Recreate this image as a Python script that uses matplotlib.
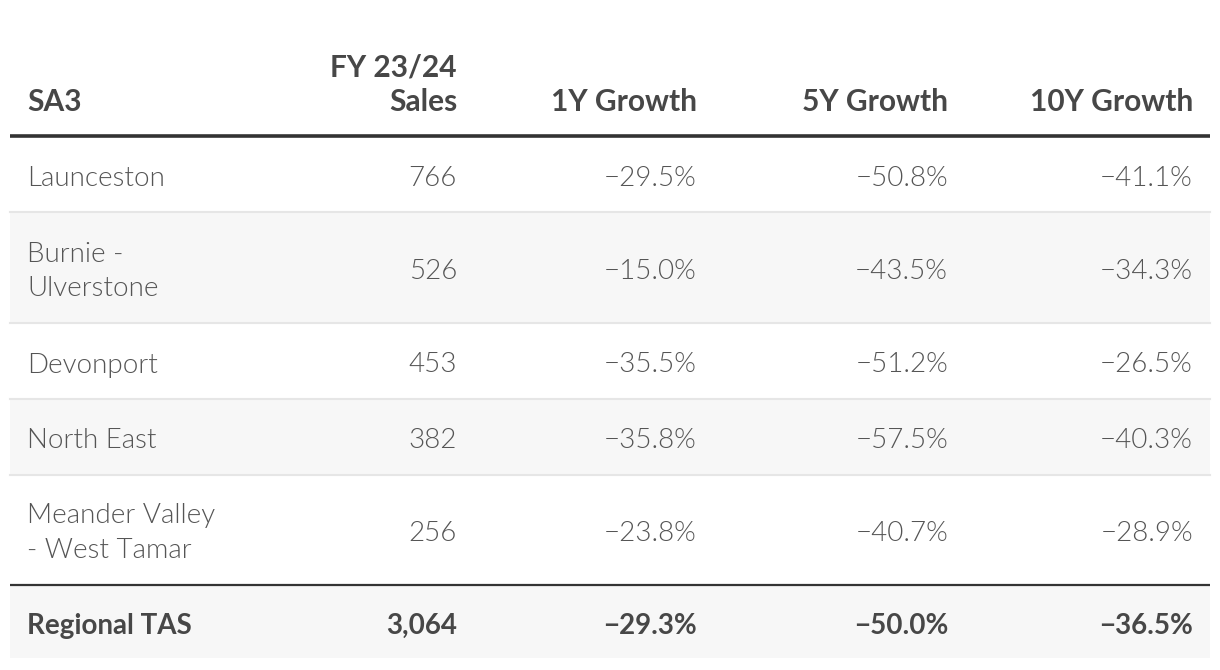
import matplotlib
matplotlib.use("Agg")
import matplotlib.pyplot as plt
from matplotlib.patches import Rectangle

plt.rcParams['font.family'] = ['Lato', 'DejaVu Sans']

headers = ["SA3", "FY 23/24\nSales", "1Y Growth", "5Y Growth", "10Y Growth"]
regions = ["Launceston", "Burnie -\nUlverstone", "Devonport", "North East", "Meander Valley\n- West Tamar"]
sales = ["766", "526", "453", "382", "256"]
growth_1y = ["\u221229.5%", "\u221215.0%", "\u221235.5%", "\u221235.8%", "\u221223.8%"]
growth_5y = ["\u221250.8%", "\u221243.5%", "\u221251.2%", "\u221257.5%", "\u221240.7%"]
growth_10y = ["\u221241.1%", "\u221234.3%", "\u221226.5%", "\u221240.3%", "\u221228.9%"]
total_row = ["Regional TAS", "3,064", "\u221229.3%", "\u221250.0%", "\u221236.5%"]

W, H = 1220, 670
fig = plt.figure(figsize=(W / 100, H / 100), dpi=100)
ax = fig.add_axes([0, 0, 1, 1])
ax.set_xlim(0, W)
ax.set_ylim(H, 0)
ax.axis("off")

left, right = 10, 1210
text_left = 27
col_right = [457, 697, 948, 1193]
row_edges = [137, 212, 323, 399, 475, 584]
total_edges = (586, 658)
fs = 20
hfs = 21.5
dy = 4
body_color = "#555555"
head_color = "#474747"
stripe = "#f7f7f7"

# header
ax.text(text_left, 102, headers[0], fontsize=hfs, fontweight="bold", color=head_color,
        ha="left", va="center")
for i, h in enumerate(headers[1:]):
    lines = h.split("\n")
    ys = [102] if len(lines) == 1 else [67, 102]
    for line, y in zip(lines, ys):
        ax.text(col_right[i], y, line, fontsize=hfs, fontweight="bold", color=head_color,
                ha="right", va="center")

ax.plot([left, right], [135.5, 135.5], color="#333333", lw=2.6, solid_capstyle="butt")

# body rows
cols = [sales, growth_1y, growth_5y, growth_10y]
for r in range(len(regions)):
    y0, y1 = row_edges[r], row_edges[r + 1]
    if r % 2 == 1:
        ax.add_patch(Rectangle((left, y0), right - left, y1 - y0, color=stripe, lw=0, zorder=0))
    yc = (y0 + y1) / 2
    lines = regions[r].split("\n")
    if len(lines) == 1:
        ax.text(text_left, yc + dy, lines[0], fontsize=fs, fontweight=300, color=body_color,
                ha="left", va="center")
    else:
        for k, line in enumerate(lines):
            ax.text(text_left, yc + dy + (k - 0.5) * 35, line, fontsize=fs, fontweight=300,
                    color=body_color, ha="left", va="center")
    for c in range(4):
        ax.text(col_right[c], yc + dy, cols[c][r], fontsize=fs, fontweight=300,
                color=body_color, ha="right", va="center")
    if r < len(regions) - 1:
        ax.plot([left, right], [y1, y1], color="#e6e6e6", lw=1.5, zorder=1)

ax.plot([left, right], [585, 585], color="#333333", lw=1.6, solid_capstyle="butt", zorder=2)

# total row
ty0, ty1 = total_edges
ax.add_patch(Rectangle((left, ty0), right - left, ty1 - ty0, color=stripe, lw=0, zorder=0))
tyc = (ty0 + ty1) / 2
ax.text(text_left, tyc + dy, total_row[0], fontsize=fs, fontweight="bold", color=head_color,
        ha="left", va="center")
for c in range(4):
    ax.text(col_right[c], tyc + dy, total_row[c + 1], fontsize=fs, fontweight="bold",
            color=head_color, ha="right", va="center")

fig.savefig("out.png", dpi=100, facecolor="white")
